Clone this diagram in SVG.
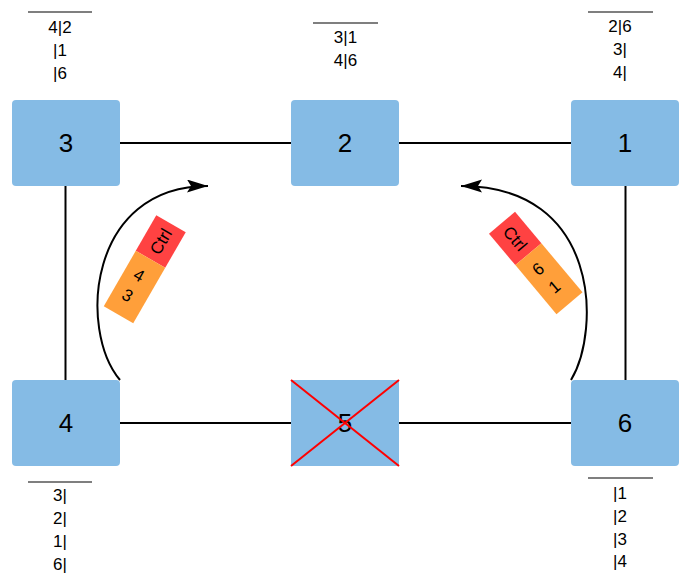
<svg xmlns="http://www.w3.org/2000/svg" width="682" height="578" viewBox="0 0 682 578">
<style>
.node rect{fill:#85BBE5;}
.num{font-family:"Liberation Sans",Arial,sans-serif;font-size:26px;fill:#000;text-anchor:middle;}
.tbl{font-family:"Liberation Sans",Arial,sans-serif;font-size:17px;fill:#000;text-anchor:middle;}
.bar{font-family:"Liberation Sans",Arial,sans-serif;font-size:17px;fill:#000;text-anchor:middle;}
.link{stroke:#000;stroke-width:2;fill:none;}
.rule{stroke:#000;stroke-width:1.2;}
.cross{stroke:#FF0000;stroke-width:2;}
</style>
<defs>
<marker id="arr" markerUnits="userSpaceOnUse" markerWidth="24" markerHeight="14" refX="21" refY="6.5" orient="auto">
<path d="M0,0 L21,6.5 L0,13 L4,6.5 Z" fill="#000"/>
</marker>
</defs>
<g id="connectors">
<line class="link" x1="120" y1="143" x2="291" y2="143"/>
<line class="link" x1="399" y1="143" x2="571" y2="143"/>
<line class="link" x1="120" y1="423" x2="291" y2="423"/>
<line class="link" x1="399" y1="423" x2="571" y2="423"/>
<line class="link" x1="65.5" y1="186" x2="65.5" y2="380"/>
<line class="link" x1="625.5" y1="186" x2="625.5" y2="380"/>
<path class="link" d="M120,380 C78,330 88,186 208,186" marker-end="url(#arr)"/>
<path class="link" d="M571,380 C601,330 600,186 461,186" marker-end="url(#arr)"/>
</g>
<g id="node3" class="node">
<rect x="12" y="100" width="108" height="86" rx="4"/>
<text class="num" x="66" y="152">3</text>
</g>
<g id="node2" class="node">
<rect x="291" y="100" width="108" height="86" rx="4"/>
<text class="num" x="345" y="152">2</text>
</g>
<g id="node1" class="node">
<rect x="571" y="100" width="108" height="86" rx="4"/>
<text class="num" x="625" y="152">1</text>
</g>
<g id="node4" class="node">
<rect x="12" y="380" width="108" height="86" rx="4"/>
<text class="num" x="66" y="432">4</text>
</g>
<g id="node5" class="node">
<rect x="291" y="380" width="108" height="86" rx="0"/>
<text class="num" x="345" y="432">5</text>
<line class="cross" x1="291" y1="380" x2="399" y2="466"/>
<line class="cross" x1="291" y1="466" x2="399" y2="380"/>
</g>
<g id="node6" class="node">
<rect x="571" y="380" width="108" height="86" rx="4"/>
<text class="num" x="625" y="432">6</text>
</g>
<g id="table3">
<line class="rule" x1="28" y1="12" x2="92" y2="12"/>
<text class="tbl" x="60" y="33">4|2</text>
<text class="tbl" x="60" y="56">|1</text>
<text class="tbl" x="60" y="79">|6</text>
</g>
<g id="table2">
<line class="rule" x1="313" y1="23" x2="378" y2="23"/>
<text class="tbl" x="345.5" y="43">3|1</text>
<text class="tbl" x="345.5" y="66">4|6</text>
</g>
<g id="table1">
<line class="rule" x1="588" y1="12" x2="653" y2="12"/>
<text class="tbl" x="620" y="32">2|6</text>
<text class="tbl" x="620" y="55">3|</text>
<text class="tbl" x="620" y="78">4|</text>
</g>
<g id="table4">
<line class="rule" x1="28" y1="482" x2="92" y2="482"/>
<text class="tbl" x="60" y="501">3|</text>
<text class="tbl" x="60" y="524">2|</text>
<text class="tbl" x="60" y="547">1|</text>
<text class="tbl" x="60" y="570">6|</text>
</g>
<g id="table6">
<line class="rule" x1="588" y1="478" x2="653" y2="478"/>
<text class="tbl" x="620" y="499">|1</text>
<text class="tbl" x="620" y="522">|2</text>
<text class="tbl" x="620" y="545">|3</text>
<text class="tbl" x="620" y="567">|4</text>
</g>
<g id="msgLeft" transform="translate(144.75,269.25) rotate(30)">
<rect x="-17" y="-52.5" width="34" height="41" fill="#FF4242"/>
<rect x="-17" y="-11.5" width="34" height="64" fill="#FF9F3A"/>
<text class="bar" transform="translate(6,-32) rotate(-90)">Ctrl</text>
<text class="bar" x="-2" y="14">4</text>
<text class="bar" x="-2" y="37">3</text>
</g>
<g id="msgRight" transform="translate(535.75,263) rotate(-40)">
<rect x="-17" y="-52.5" width="34" height="41" fill="#FF4242"/>
<rect x="-17" y="-11.5" width="34" height="64" fill="#FF9F3A"/>
<text class="bar" transform="translate(-6,-32) rotate(90)">Ctrl</text>
<text class="bar" x="-2" y="12">6</text>
<text class="bar" x="-1" y="36">1</text>
</g>
</svg>
